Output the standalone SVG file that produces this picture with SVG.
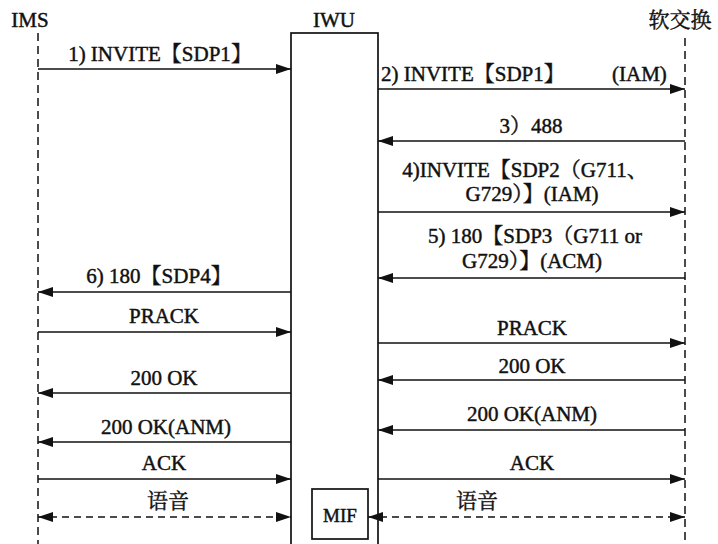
<svg xmlns="http://www.w3.org/2000/svg" width="718" height="544" viewBox="0 0 718 544">
<style>
text{font-family:'Liberation Serif',serif;font-size:21px;fill:#111;stroke:#111;stroke-width:0.45}
.k{font-family:'Noto Serif CJK SC','Noto Sans CJK SC',serif}
.c{text-anchor:middle}
.life{stroke:#111;stroke-width:1.5;stroke-dasharray:8 5;fill:none}
.msg{stroke:#111;stroke-width:1.7;fill:none;marker-end:url(#ah)}
.voice{stroke:#111;stroke-width:1.7;fill:none;stroke-dasharray:7 5;marker-start:url(#ah);marker-end:url(#ah)}
.box{fill:#fff;stroke:#111;stroke-width:1.7}
</style>
<defs>
<marker id="ah" viewBox="0 0 15 10" refX="15" refY="5" markerWidth="15" markerHeight="10" markerUnits="userSpaceOnUse" orient="auto-start-reverse">
<path d="M0,0 L15,5 L0,10 z" fill="#111"/>
</marker>
</defs>
<rect width="718" height="544" fill="#fff"/>
<g id="ims">
<text x="30" y="27" class="c">IMS</text>
<line class="life" x1="38" y1="33" x2="38" y2="544"/>
</g>
<g id="iwu">
<text x="334" y="27" class="c">IWU</text>
<rect class="box" x="291" y="33" width="87" height="530"/>
</g>
<g id="softswitch">
<text x="680" y="27" class="c k">软交换</text>
<line class="life" x1="685" y1="38" x2="685" y2="544"/>
</g>
<g id="mif">
<rect class="box" x="312" y="489" width="56" height="50"/>
<text x="340" y="522" class="c" style="font-size:19px">MIF</text>
</g>
<g id="connectors">
<line class="msg" x1="38" y1="69" x2="291" y2="69"/>
<line class="msg" x1="378" y1="89" x2="685" y2="89"/>
<line class="msg" x1="685" y1="141" x2="378" y2="141"/>
<line class="msg" x1="378" y1="212" x2="685" y2="212"/>
<line class="msg" x1="685" y1="278" x2="378" y2="278"/>
<line class="msg" x1="291" y1="292" x2="38" y2="292"/>
<line class="msg" x1="38" y1="332" x2="291" y2="332"/>
<line class="msg" x1="378" y1="343" x2="685" y2="343"/>
<line class="msg" x1="685" y1="380" x2="378" y2="380"/>
<line class="msg" x1="291" y1="393" x2="38" y2="393"/>
<line class="msg" x1="685" y1="430" x2="378" y2="430"/>
<line class="msg" x1="291" y1="442" x2="38" y2="442"/>
<line class="msg" x1="38" y1="479" x2="291" y2="479"/>
<line class="msg" x1="378" y1="479" x2="685" y2="479"/>
<line class="voice" x1="38" y1="517" x2="291" y2="517"/>
<line class="voice" x1="368" y1="517" x2="685" y2="517"/>
</g>
<g id="labels">
<text x="160" y="61" class="c">1) INVITE<tspan class="k">【</tspan>SDP1<tspan class="k">】</tspan></text>
<text x="381" y="81">2) INVITE<tspan class="k">【</tspan>SDP1<tspan class="k">】</tspan><tspan x="612">(IAM)</tspan></text>
<text x="531" y="133" class="c">3<tspan class="k">）</tspan>488</text>
<text class="c"><tspan x="525" y="177">4)INVITE<tspan class="k">【</tspan>SDP2<tspan class="k">（</tspan>G711<tspan class="k">、</tspan></tspan><tspan x="532" y="201">G729<tspan class="k">）】</tspan>(IAM)</tspan></text>
<text class="c"><tspan x="535" y="243">5) 180<tspan class="k">【</tspan>SDP3<tspan class="k">（</tspan>G711 or</tspan><tspan x="532" y="268">G729<tspan class="k">）】</tspan>(ACM)</tspan></text>
<text x="159" y="283" class="c">6) 180<tspan class="k">【</tspan>SDP4<tspan class="k">】</tspan></text>
<text x="164" y="323" class="c">PRACK</text>
<text x="532" y="335" class="c">PRACK</text>
<text x="532" y="373" class="c">200 OK</text>
<text x="164" y="385" class="c">200 OK</text>
<text x="532" y="421" class="c">200 OK(ANM)</text>
<text x="166" y="434" class="c">200 OK(ANM)</text>
<text x="164" y="470" class="c">ACK</text>
<text x="532" y="470" class="c">ACK</text>
<text x="168" y="508" class="c k">语音</text>
<text x="477" y="508" class="c k">语音</text>
</g>
</svg>
